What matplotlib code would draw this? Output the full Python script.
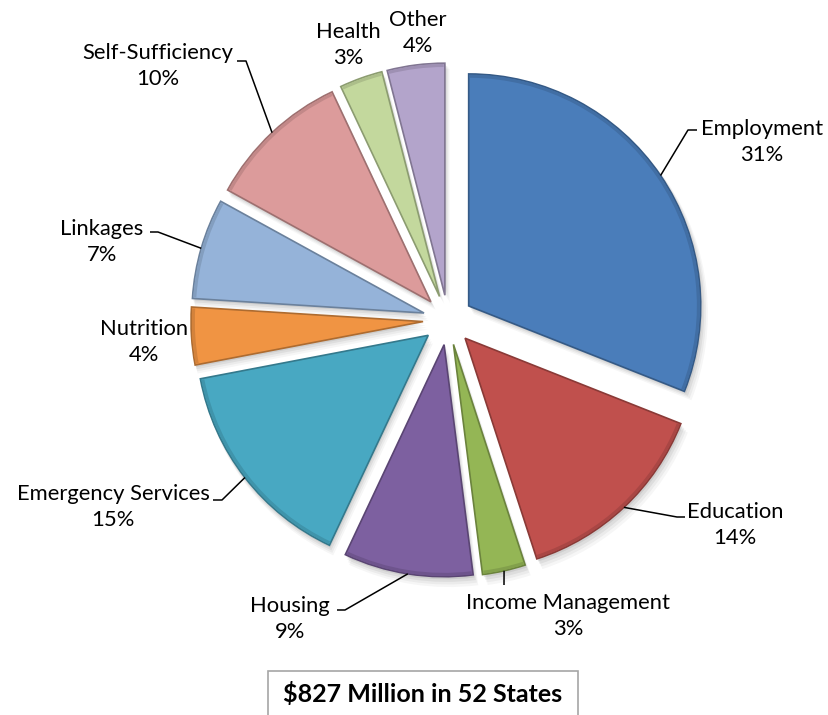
import numpy as np
import matplotlib
matplotlib.use("Agg")
import matplotlib.pyplot as plt
from matplotlib.patches import Wedge, Rectangle
from matplotlib.colors import to_rgb

# Funding share by service category (percent)
categories = ["Employment", "Education", "Income Management", "Housing",
              "Emergency Services", "Nutrition", "Linkages",
              "Self-Sufficiency", "Health", "Other"]
shares = [31, 14, 3, 9, 15, 4, 7, 10, 3, 4]
colors = ["#4A7DBA", "#C0504D", "#94B655", "#7D60A0", "#48A8C2",
          "#F09443", "#95B3D9", "#DC9B9B", "#C3D89D", "#B3A4CB"]
caption = "$827 Million in 52 States"

plt.rcParams["font.family"] = ["Lato", "DejaVu Sans"]

W, H = 829, 715
fig = plt.figure(figsize=(W / 100, H / 100), dpi=100)
ax = fig.add_axes([0, 0, 1, 1])

CENTER = (448, 395)
RADIUS = 232
GAP = 25


def shade(c, f):
    r, g, b = to_rgb(c)
    return (r * f, g * f, b * f)


def tint(c, f):
    r, g, b = to_rgb(c)
    return (r + (1 - r) * f, g + (1 - g) * f, b + (1 - b) * f)


wedges, _ = ax.pie(shares, colors=colors, explode=[GAP] * len(shares),
                   radius=RADIUS, center=CENTER, startangle=90,
                   counterclock=False,
                   wedgeprops=dict(linewidth=1.2, zorder=3))
for w, c in zip(wedges, colors):
    w.set_edgecolor(shade(c, 0.72))
    # soft drop shadow beneath each slice
    for k, a in [(8, 0.035), (6, 0.045), (4, 0.06), (2, 0.07)]:
        ax.add_patch(Wedge((w.center[0] + k * 0.6, w.center[1] - k),
                           w.r + k * 0.3, w.theta1, w.theta2,
                           facecolor="black", edgecolor="none",
                           alpha=a, zorder=1))
    # slightly darker rim along the outer arc for a bevelled look
    ax.add_patch(Wedge(w.center, w.r - 0.8, w.theta1 + 0.3, w.theta2 - 0.3,
                       width=3.0, facecolor=shade(c, 0.88), edgecolor="none",
                       zorder=4))

ax.set_xlim(0, W)
ax.set_ylim(0, H)
ax.set_aspect("equal")
ax.axis("off")

# label centers and leader-line elbows (y measured upward)
label_pos = {
    "Employment": (762, 573),
    "Education": (735, 190),
    "Income Management": (568, 99),
    "Housing": (290, 96),
    "Emergency Services": (113, 208),
    "Nutrition": (144, 373),
    "Linkages": (102, 473),
    "Self-Sufficiency": (158, 649),
    "Health": (348, 670),
    "Other": (418, 682),
}
leaders = {
    "Employment": [(688, 585), (697, 585)],
    "Education": [(677, 198), (685, 198)],
    "Income Management": [(504, 130)],
    "Housing": [(345, 105), (337, 105)],
    "Emergency Services": [(222, 215), (213, 215)],
    "Linkages": [(158, 483), (150, 483)],
    "Self-Sufficiency": [(246, 654), (237, 654)],
}

for w, name, val in zip(wedges, categories, shares):
    x, y = label_pos[name]
    ax.text(x, y, f"{name}\n{val}%", ha="center", va="center",
            fontsize=15.8, linespacing=1.4, color="black", zorder=6)
    if name in leaders:
        mid = np.deg2rad((w.theta1 + w.theta2) / 2)
        sx = w.center[0] + w.r * np.cos(mid)
        sy = w.center[1] + w.r * np.sin(mid)
        pts = [(sx, sy)] + leaders[name]
        ax.plot([p[0] for p in pts], [p[1] for p in pts], color="black",
                lw=1.1, zorder=5, solid_capstyle="butt")

# caption box
ax.add_patch(Rectangle((268, -2), 310, 46, facecolor="white",
                       edgecolor="#A6A6A6", lw=1.2, zorder=5))
ax.text(423, 21, caption, ha="center", va="center", fontsize=18,
        fontweight="bold", color="black", zorder=6)

fig.savefig("out.png", dpi=100)
